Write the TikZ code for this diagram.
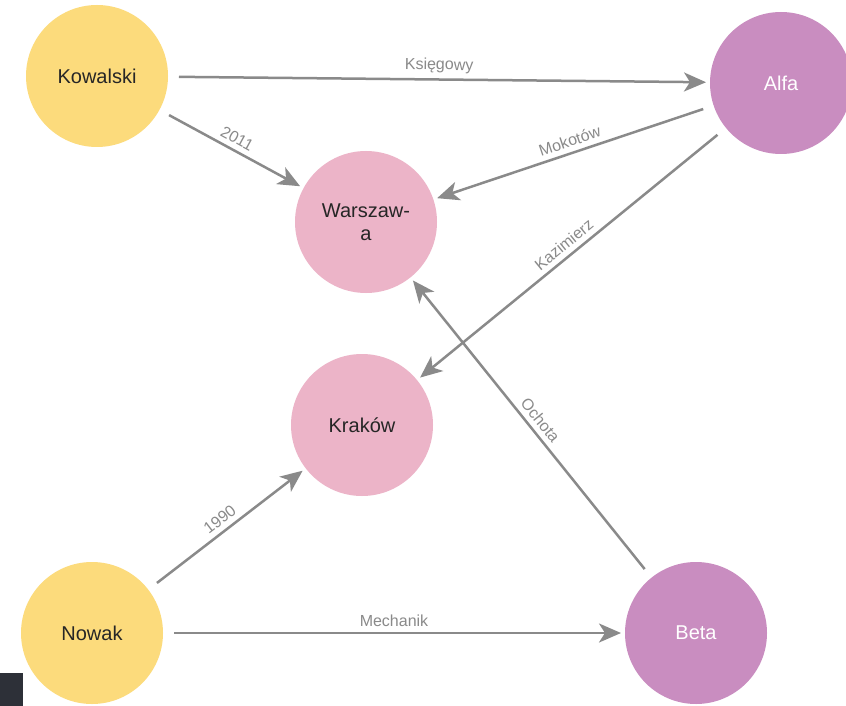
\documentclass[tikz,border=0pt]{standalone}
\usepackage{fontspec}
\setmainfont{Liberation Sans}
\usetikzlibrary{arrows.meta}
\definecolor{persony}{HTML}{FCDB7C}
\definecolor{placep}{HTML}{ECB4C8}
\definecolor{firmp}{HTML}{C98DC0}
\definecolor{relgray}{HTML}{8A8A8A}
\definecolor{cornerbox}{HTML}{2D3038}
\tikzset{
  entity/.style={circle, minimum size=142pt, inner sep=0pt, outer sep=0pt, draw=none,
    font=\fontsize{20}{23}\selectfont, align=center},
  person/.style={entity, fill=persony, text=black!85},
  place/.style={entity, fill=placep, text=black!85},
  firm/.style={entity, fill=firmp, text=white},
  rel/.style={draw=relgray, line width=2.5pt,
    -{Stealth[length=22pt, width=19pt, inset=6pt]},
    shorten <=11pt, shorten >=4pt},
  rellabel/.style={midway, sloped, above, inner sep=5pt, text=relgray,
    font=\fontsize{16}{16}\selectfont}
}
\begin{document}
\begin{tikzpicture}[x=1pt, y=-1pt]
  \useasboundingbox[fill=white] (0,0) rectangle (846,706);

  % entities
  \node[person] (kowalski) at (97,76)  {Kowalski};
  \node[firm]   (alfa)     at (781,83) {Alfa};
  \node[place]  (warszawa) at (366,222) {Warszaw-\\a};
  \node[place]  (krakow)   at (362,425) {Kraków};
  \node[person] (nowak)    at (92,633) {Nowak};
  \node[firm]   (beta)     at (696,633) {Beta};

  % relationships
  \draw[rel] (kowalski) -- node[rellabel] {Księgowy} (alfa);
  \draw[rel] (kowalski) -- node[rellabel] {2011} (warszawa);
  \draw[rel] (alfa) -- node[rellabel] {Mokotów} (warszawa);
  \draw[rel] (alfa) -- node[rellabel] {Kazimierz} (krakow);
  \draw[rel] (beta) -- node[rellabel] {Ochota} (warszawa);
  \draw[rel] (nowak) -- node[rellabel] {1990} (krakow);
  \draw[rel] (nowak) -- node[rellabel] {Mechanik} (beta);

  % dark corner tab
  \fill[cornerbox] (0,673) rectangle (23,706);
\end{tikzpicture}
\end{document}
